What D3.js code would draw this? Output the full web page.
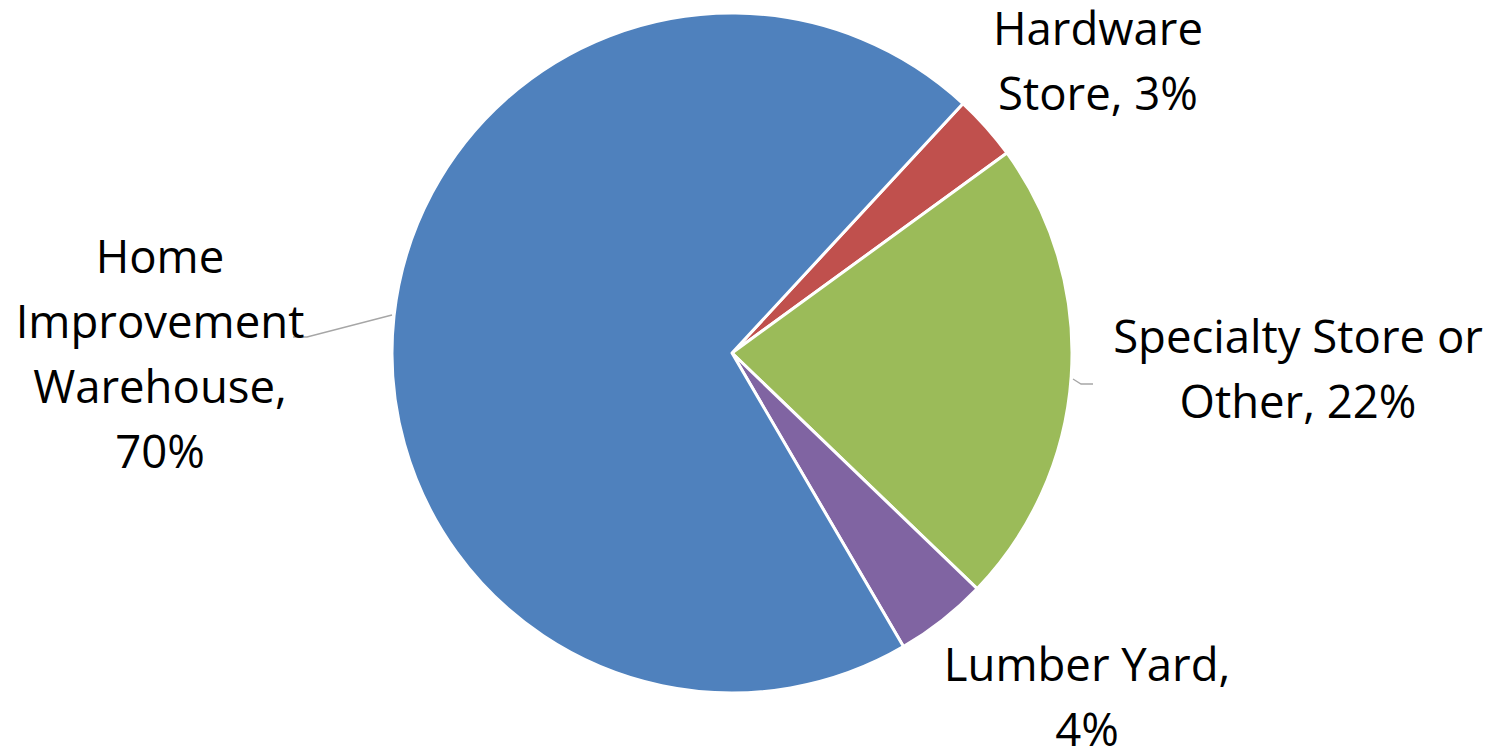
<!DOCTYPE html>
<html>
<head>
<meta charset="utf-8">
<script src="https://cdn.jsdelivr.net/npm/d3@7"></script>
<style>
html,body{margin:0;padding:0;background:#fff;}
svg{display:block;}
text{font-family:"Open Sans",sans-serif;fill:#000;}
</style>
</head>
<body>
<svg id="chart" width="1499" height="750"></svg>
<script>
// ---- data ----
const categories = ["Hardware Store", "Specialty Store or Other", "Lumber Yard", "Home Improvement Warehouse"];
const values = [3.1, 22.2, 4.4, 70.3];
const colors = ["#C0504D", "#9BBB59", "#8064A2", "#4F81BD"];
const labelLines = [
  ["Hardware", "Store, 3%"],
  ["Specialty Store or", "Other, 22%"],
  ["Lumber Yard,", "4%"],
  ["Home", "Improvement", "Warehouse,", "70%"]
];

// ---- layout ----
const W = 1499, H = 750;
const cx = 732, cy = 353, R = 340;
const startDeg = 42.8;
const fontSize = 45.5, lineH = 65;
// label anchor (center x, first baseline y)
const labelPos = [
  {x: 1098, y: 45},
  {x: 1298, y: 353},
  {x: 1087, y: 681},
  {x: 160, y: 273}
];
// leader lines
const leaders = [
  null,
  [[1073, 379], [1081, 384], [1093, 384]],
  null,
  [[293, 337], [307, 337], [392, 315]]
];

const svg = d3.select("#chart");
const g = svg.append("g").attr("transform", `translate(${cx},${cy})`);

const start = startDeg * Math.PI / 180;
const pie = d3.pie().sort(null).value(d => d).startAngle(start).endAngle(start + 2 * Math.PI);
const arc = d3.arc().innerRadius(0).outerRadius(R);
const arcs = pie(values);

g.selectAll("path.slice").data(arcs).enter().append("path")
  .attr("class", "slice")
  .attr("d", arc)
  .attr("fill", (d, i) => colors[i])
  .attr("stroke", "#fff")
  .attr("stroke-width", 3)
  .attr("stroke-linejoin", "round");

const line = d3.line();
leaders.forEach(pts => {
  if (!pts) return;
  svg.append("path").attr("d", line(pts))
    .attr("fill", "none").attr("stroke", "#a6a6a6").attr("stroke-width", 1.3);
});

labelLines.forEach((lines, i) => {
  const t = svg.append("text")
    .attr("text-anchor", "middle")
    .attr("font-size", fontSize);
  lines.forEach((s, j) => {
    t.append("tspan").attr("x", labelPos[i].x).attr("y", labelPos[i].y + j * lineH).text(s);
  });
});
</script>
</body>
</html>
